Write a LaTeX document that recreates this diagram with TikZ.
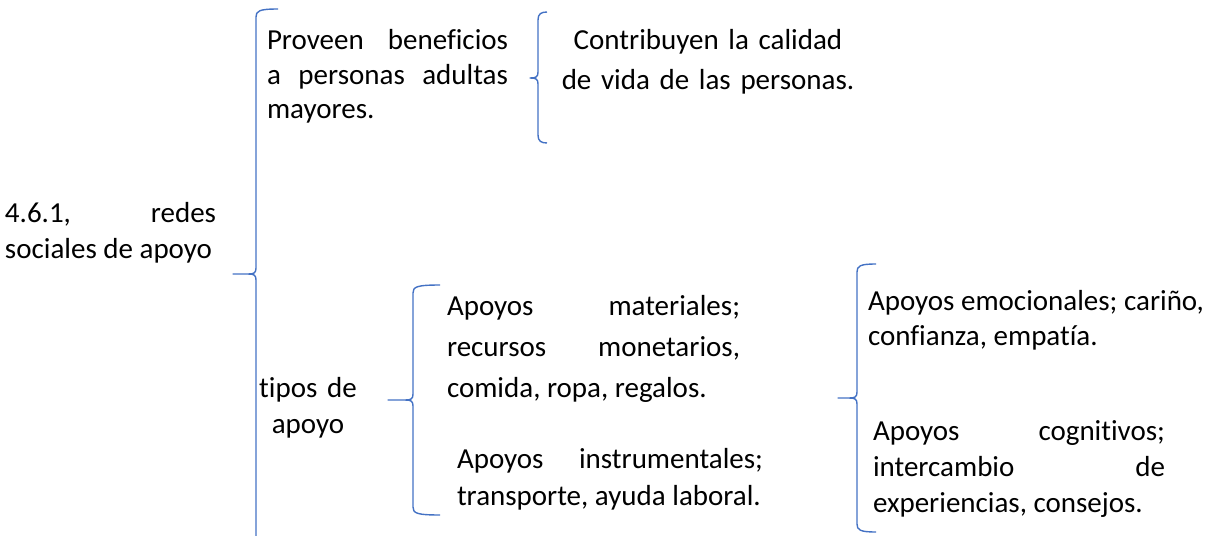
\documentclass[tikz,border=0pt]{standalone}
\usepackage{fontspec}
\setmainfont{Carlito}[Ligatures=CommonOff]
\definecolor{bracecol}{HTML}{4472C4}
\newcommand\drawbrace[6]{%
  \draw[bracestyle] (#6,#2) .. controls (#1+3,#2) and (#1,#2+2) .. (#1,#2+8)
    -- (#1,#5-6) .. controls (#1,#5-1) and (#1-2,#5) .. (#1-8,#5) -- (#4,#5)
    -- (#1-8,#5) .. controls (#1-2,#5) and (#1,#5+1) .. (#1,#5+6)
    -- (#1,#3-8) .. controls (#1,#3-2) and (#1+3,#3) .. (#6,#3);}
\begin{document}
\begin{tikzpicture}[x=1pt,y=-1pt,
  bracestyle/.style={draw=bracecol, line width=1.4pt, line join=round},
  txt/.style={inner sep=0pt, outer sep=0pt, align=justify, anchor=base west, text=black,
    execute at begin node={\hyphenpenalty=10000\exhyphenpenalty=10000\relax}},
  fs/.style={font=\fontsize{29}{#1}\selectfont}]
\useasboundingbox (0,0) rectangle (1209,535);
% texts
\node[txt, fs=36, text width=211pt] (root) at (5,222) {4.6.1, redes\linebreak sociales de apoyo};
\node[txt, fs=35, text width=241pt] (prov) at (267,49) {Proveen beneficios\linebreak a personas adultas\linebreak mayores.};
\node[txt, fs=40, text width=320pt, align=center, anchor=base] (contrib) at (708,49) {Contribuyen la calidad\\de vida de las personas.};
\node[txt, fs=36, text width=140pt, align=center, anchor=base] (tipos) at (308,397) {tipos de\\apoyo};
\node[txt, fs=41, text width=293pt] (mat) at (447,315) {Apoyos materiales;\linebreak recursos monetarios,\linebreak comida, ropa, regalos.};
\node[txt, fs=37, text width=306pt] (inst) at (457,468) {Apoyos instrumentales;\linebreak transporte, ayuda laboral.};
\node[txt, fs=35, text width=336pt] (emo) at (868,310) {Apoyos emocionales; cariño,\linebreak confianza, empatía.};
\node[txt, fs=36, text width=292pt] (cog) at (873,440) {Apoyos cognitivos;\linebreak intercambio de\linebreak experiencias, consejos.};
% braces
\drawbrace{256}{9}{560}{233}{274}{278}
\drawbrace{538}{12}{143}{530}{78}{547}
\drawbrace{413}{285}{515}{388}{400}{440}
\drawbrace{857}{264}{532}{838}{398}{876}
\end{tikzpicture}
\end{document}
